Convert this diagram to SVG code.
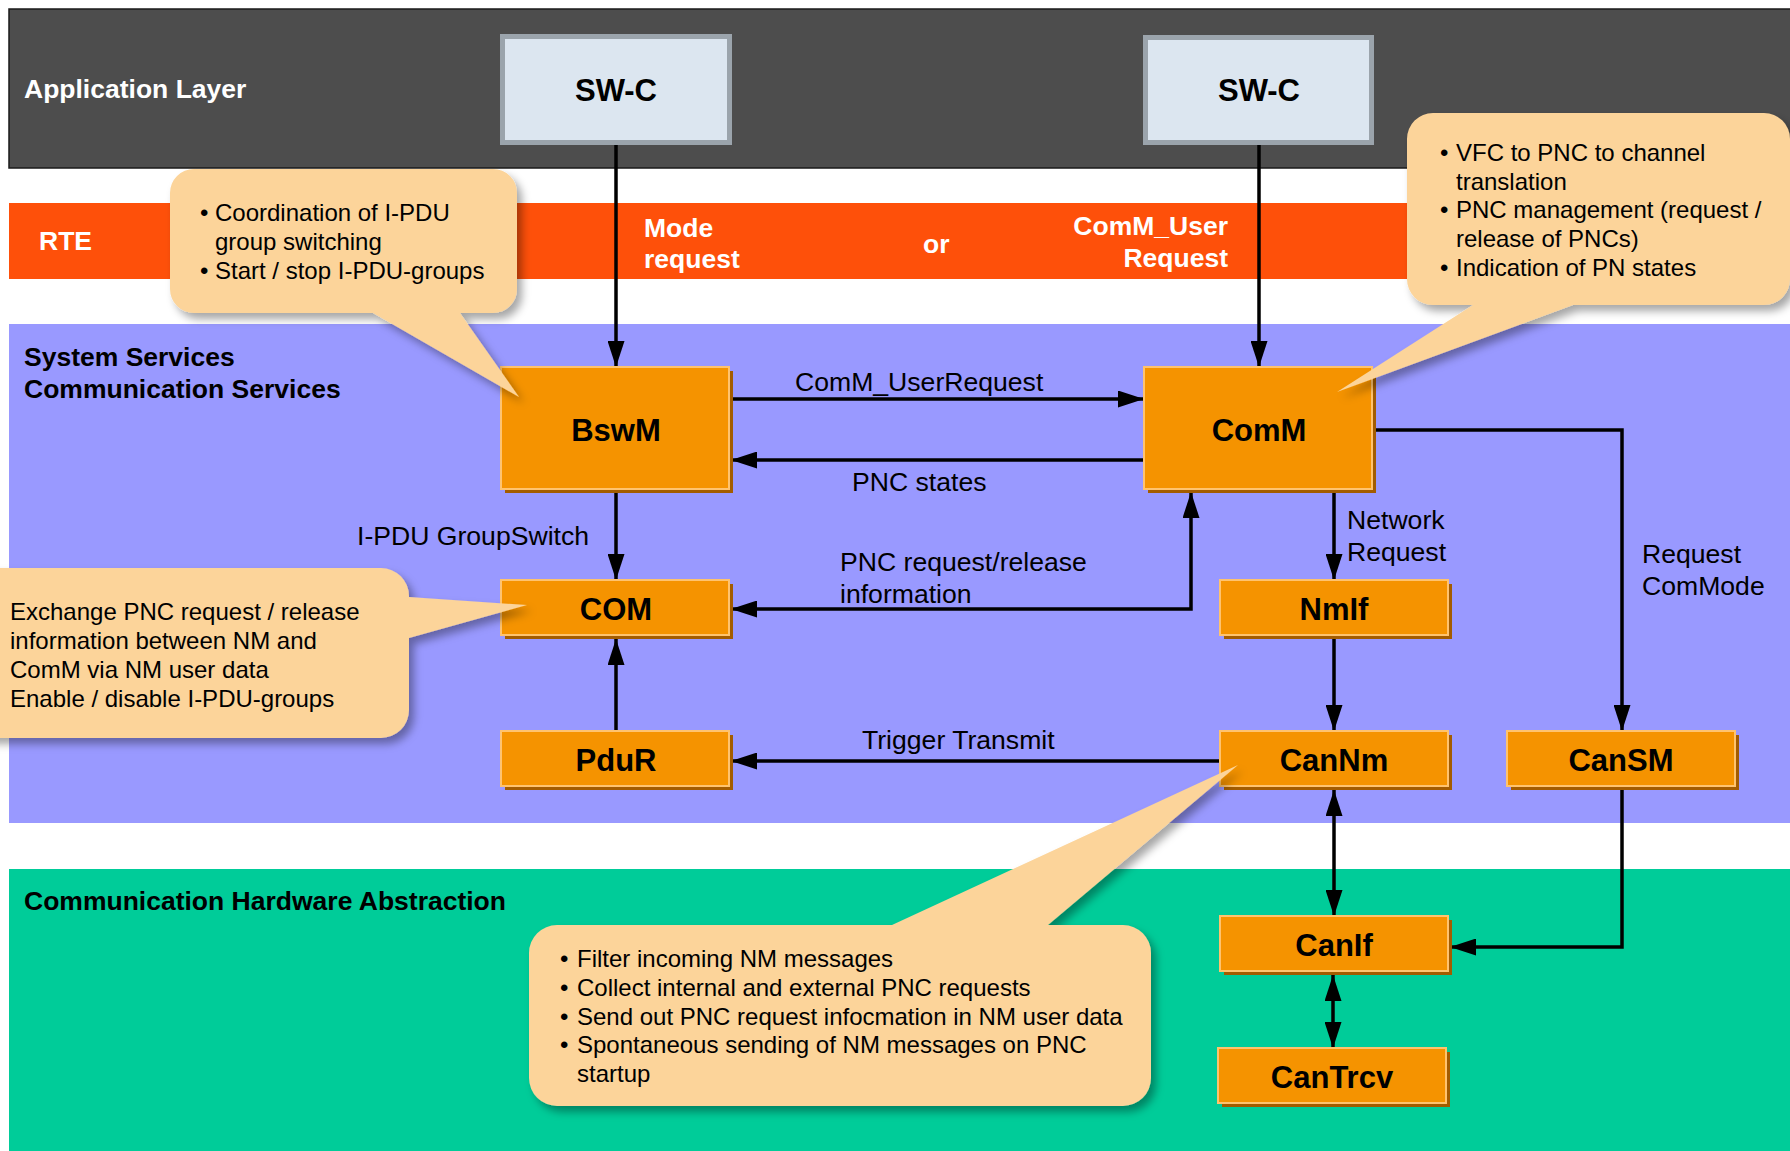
<svg xmlns="http://www.w3.org/2000/svg" width="1790" height="1151" viewBox="0 0 1790 1151">
<style>
.lbl{font-family:"Liberation Sans",Arial,sans-serif;font-size:24px;fill:#000}
.cl{font-family:"Liberation Sans",Arial,sans-serif;font-size:26.6px;fill:#000}
.lay{font-family:"Liberation Sans",Arial,sans-serif;font-size:26.5px;font-weight:bold}
.w{fill:#fff}
.k{fill:#000}
.node{font-family:"Liberation Sans",Arial,sans-serif;font-size:31px;font-weight:bold;fill:#000;text-anchor:middle}
.box{fill:#F59300;stroke:#FFC36E;stroke-width:2}
.shd{fill:#A35C00}
.swc{fill:#DCE6F0;stroke:#9BA4AC;stroke-width:5}
.con{fill:none;stroke:#000;stroke-width:3.5}
.call{fill:#FCD49A;filter:url(#ds)}
</style>
<defs>
<marker id="ah" markerUnits="userSpaceOnUse" markerWidth="26" markerHeight="17" refX="26" refY="8.5" orient="auto-start-reverse" viewBox="0 0 26 17">
<path d="M0,0 L26,8.5 L0,17 Z" fill="#000"/>
</marker>
<filter id="ds" x="-10%" y="-10%" width="130%" height="130%">
<feDropShadow dx="5" dy="6" stdDeviation="4" flood-color="#000" flood-opacity="0.35"/>
</filter>
</defs>

<g id="bands">
<rect x="9" y="9" width="1795" height="159" fill="#4D4D4D" stroke="#1a1a1a" stroke-width="1.5"/>
<rect x="9" y="203" width="1790" height="76" fill="#FE500A"/>
<rect x="9" y="324" width="1790" height="499" fill="#9999FF"/>
<rect x="9" y="869" width="1790" height="290" fill="#00CC99"/>
<text class="lay w" x="24" y="98">Application Layer</text>
<text class="lay w" x="39" y="250">RTE</text>
<text class="lay w" x="644" y="237">Mode</text>
<text class="lay w" x="644" y="268">request</text>
<text class="lay w" x="923" y="253">or</text>
<text class="lay w" x="1228" y="235" text-anchor="end">ComM_User</text>
<text class="lay w" x="1228" y="267" text-anchor="end">Request</text>
<text class="lay k" x="24" y="366">System Services</text>
<text class="lay k" x="24" y="398">Communication Services</text>
<text class="lay k" x="24" y="910">Communication Hardware Abstraction</text>
</g>

<g id="connectors">
<path class="con" d="M616,145 V367" marker-end="url(#ah)"/>
<path class="con" d="M1259,145 V367" marker-end="url(#ah)"/>
<path class="con" d="M731,399 H1144" marker-end="url(#ah)"/>
<path class="con" d="M1144,460 H731" marker-end="url(#ah)"/>
<path class="con" d="M616,491 V580" marker-end="url(#ah)"/>
<path class="con" d="M1191,492 V609 H731" marker-start="url(#ah)" marker-end="url(#ah)"/>
<path class="con" d="M616,731 V639" marker-end="url(#ah)"/>
<path class="con" d="M1334,491 V580" marker-end="url(#ah)"/>
<path class="con" d="M1334,639 V731" marker-end="url(#ah)"/>
<path class="con" d="M1220,761 H731" marker-end="url(#ah)"/>
<path class="con" d="M1372,430 H1622 V731" marker-end="url(#ah)"/>
<path class="con" d="M1334,790 V916" marker-start="url(#ah)" marker-end="url(#ah)"/>
<path class="con" d="M1333,975 V1048" marker-start="url(#ah)" marker-end="url(#ah)"/>
<path class="con" d="M1622,790 V947 H1450" marker-end="url(#ah)"/>
<text class="cl" x="795" y="391">ComM_UserRequest</text>
<text class="cl" x="852" y="491">PNC states</text>
<text class="cl" x="357" y="545">I-PDU GroupSwitch</text>
<text class="cl" x="840" y="571">PNC request/release</text>
<text class="cl" x="840" y="603">information</text>
<text class="cl" x="1347" y="529">Network</text>
<text class="cl" x="1347" y="561">Request</text>
<text class="cl" x="1642" y="563">Request</text>
<text class="cl" x="1642" y="595">ComMode</text>
<text class="cl" x="862" y="749">Trigger Transmit</text>
</g>

<g id="swc1">
<rect class="swc" x="502.5" y="36.5" width="227" height="106"/>
<text class="node" x="616" y="101">SW-C</text>
</g>
<g id="swc2">
<rect class="swc" x="1145.5" y="37.5" width="226" height="105"/>
<text class="node" x="1259" y="101">SW-C</text>
</g>

<g id="BswM">
<rect class="shd" x="505" y="371" width="228" height="122"/>
<rect class="box" x="501" y="367" width="228" height="122"/>
<text class="node" x="616" y="441">BswM</text>
</g>
<g id="ComM">
<rect class="shd" x="1148" y="371" width="228" height="122"/>
<rect class="box" x="1144" y="367" width="228" height="122"/>
<text class="node" x="1259" y="441">ComM</text>
</g>
<g id="COM">
<rect class="shd" x="505" y="584" width="228" height="55"/>
<rect class="box" x="501" y="580" width="228" height="55"/>
<text class="node" x="616" y="620">COM</text>
</g>
<g id="PduR">
<rect class="shd" x="505" y="735" width="228" height="55"/>
<rect class="box" x="501" y="731" width="228" height="55"/>
<text class="node" x="616" y="771">PduR</text>
</g>
<g id="NmIf">
<rect class="shd" x="1224" y="584" width="228" height="55"/>
<rect class="box" x="1220" y="580" width="228" height="55"/>
<text class="node" x="1334" y="620">NmIf</text>
</g>
<g id="CanNm">
<rect class="shd" x="1224" y="735" width="228" height="55"/>
<rect class="box" x="1220" y="731" width="228" height="55"/>
<text class="node" x="1334" y="771">CanNm</text>
</g>
<g id="CanSM">
<rect class="shd" x="1511" y="735" width="228" height="55"/>
<rect class="box" x="1507" y="731" width="228" height="55"/>
<text class="node" x="1621" y="771">CanSM</text>
</g>
<g id="CanIf">
<rect class="shd" x="1224" y="920" width="228" height="55"/>
<rect class="box" x="1220" y="916" width="228" height="55"/>
<text class="node" x="1334" y="956">CanIf</text>
</g>
<g id="CanTrcv">
<rect class="shd" x="1222" y="1052" width="228" height="55"/>
<rect class="box" x="1218" y="1048" width="228" height="55"/>
<text class="node" x="1332" y="1088">CanTrcv</text>
</g>

<g id="callout-bswm">
<path class="call" d="M194,169 H493 A24,24 0 0 1 517,193 V289 A24,24 0 0 1 493,313 H460 L519,397 L373,313 H194 A24,24 0 0 1 170,289 V193 A24,24 0 0 1 194,169 Z"/>
<text class="lbl" x="200" y="221">•</text>
<text class="lbl" x="215" y="221">Coordination of I-PDU</text>
<text class="lbl" x="215" y="250">group switching</text>
<text class="lbl" x="200" y="279">•</text>
<text class="lbl" x="215" y="279">Start / stop I-PDU-groups</text>
</g>

<g id="callout-comm">
<path class="call" d="M1433,113 H1764 A26,26 0 0 1 1790,139 V279 A26,26 0 0 1 1764,305 H1573 L1337,392 L1473,305 H1433 A26,26 0 0 1 1407,279 V139 A26,26 0 0 1 1433,113 Z"/>
<text class="lbl" x="1440" y="161">•</text>
<text class="lbl" x="1456" y="161">VFC to PNC to channel</text>
<text class="lbl" x="1456" y="190">translation</text>
<text class="lbl" x="1440" y="218">•</text>
<text class="lbl" x="1456" y="218">PNC management (request /</text>
<text class="lbl" x="1456" y="247">release of PNCs)</text>
<text class="lbl" x="1440" y="276">•</text>
<text class="lbl" x="1456" y="276">Indication of PN states</text>
</g>

<g id="callout-com">
<path class="call" d="M-40,568 H381 A28,28 0 0 1 409,596 V597 L527,605 L409,638 V710 A28,28 0 0 1 381,738 H-40 Z"/>
<text class="lbl" x="10" y="620">Exchange PNC request / release</text>
<text class="lbl" x="10" y="649">information between NM and</text>
<text class="lbl" x="10" y="678">ComM via NM user data</text>
<text class="lbl" x="10" y="707">Enable / disable I-PDU-groups</text>
</g>

<g id="callout-cannm">
<path class="call" d="M557,925 H892 L1238,765 L1048,925 H1123 A28,28 0 0 1 1151,953 V1078 A28,28 0 0 1 1123,1106 H557 A28,28 0 0 1 529,1078 V953 A28,28 0 0 1 557,925 Z"/>
<text class="lbl" x="560" y="967">•</text>
<text class="lbl" x="577" y="967">Filter incoming NM messages</text>
<text class="lbl" x="560" y="996">•</text>
<text class="lbl" x="577" y="996">Collect internal and external PNC requests</text>
<text class="lbl" x="560" y="1025">•</text>
<text class="lbl" x="577" y="1025">Send out PNC request infocmation in NM user data</text>
<text class="lbl" x="560" y="1053">•</text>
<text class="lbl" x="577" y="1053">Spontaneous sending of NM messages on PNC</text>
<text class="lbl" x="577" y="1082">startup</text>
</g>
</svg>
